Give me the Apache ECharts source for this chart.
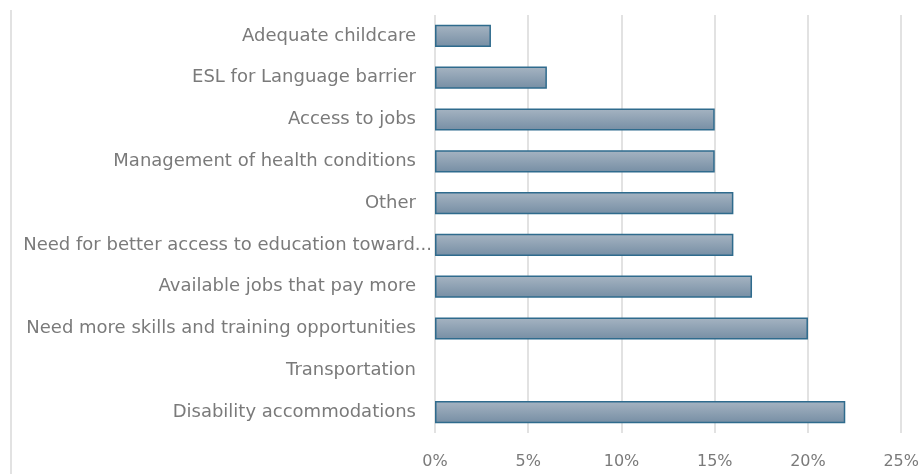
<!DOCTYPE html>
<html>
<head>
<meta charset="utf-8">
<script src="https://cdn.jsdelivr.net/npm/echarts@6/dist/echarts.min.js"></script>
<style>
  html, body { margin: 0; padding: 0; background: #ffffff; }
  #chart { width: 922px; height: 474px; }
</style>
</head>
<body>
<div id="chart"></div>
<script>
// Barriers to employment, share of respondents (top to bottom)
const categories = [
  'Adequate childcare',
  'ESL for Language barrier',
  'Access to jobs',
  'Management of health conditions',
  'Other',
  'Need for better access to education toward...',
  'Available jobs that pay more',
  'Need more skills and training opportunities',
  'Transportation',
  'Disability accommodations'
];
const shares = [3, 6, 15, 15, 16, 16, 17, 20, 0, 22];
const xTicks = [0, 5, 10, 15, 20, 25];

const chart = echarts.init(document.getElementById('chart'), null, { renderer: 'canvas' });

const barFill = new echarts.graphic.LinearGradient(0, 0, 0, 1, [
  { offset: 0, color: '#a6b4c2' },
  { offset: 1, color: '#768ea4' }
]);

chart.setOption({
  animation: false,
  backgroundColor: '#ffffff',
  grid: { left: 435, right: 20, top: 15, bottom: 41, containLabel: false },
  xAxis: {
    type: 'value',
    min: xTicks[0],
    max: xTicks[xTicks.length - 1],
    interval: xTicks[1] - xTicks[0],
    axisLine: { show: false },
    axisTick: { show: false },
    splitLine: { show: true, lineStyle: { color: '#d9d9d9', width: 1.5 } },
    axisLabel: {
      formatter: v => v + '%',
      color: '#7a7a7a',
      fontFamily: 'DejaVu Sans',
      fontSize: 16,
      margin: 21
    }
  },
  yAxis: {
    type: 'category',
    inverse: true,
    data: categories,
    axisLine: { show: false },
    axisTick: { show: false },
    splitLine: { show: false },
    axisLabel: {
      color: '#7a7a7a',
      fontFamily: 'DejaVu Sans',
      fontSize: 18,
      margin: 19,
      formatter: v => v.endsWith('...') ? '{tight|' + v + '}' : v,
      rich: {
        tight: {
          color: '#7a7a7a',
          fontFamily: 'DejaVu Sans',
          fontSize: 18,
          padding: [0, -16, 0, 0]
        }
      }
    }
  },
  series: [{
    type: 'bar',
    barCategoryGap: '47%',
    data: shares.map(v => v === 0
      ? { value: v, itemStyle: { borderWidth: 0 } }
      : v),
    itemStyle: {
      color: barFill,
      borderColor: '#2f6b8d',
      borderWidth: 1.5
    }
  }],
  graphic: [{
    type: 'line',
    shape: { x1: 11, y1: 10, x2: 11, y2: 474 },
    style: { stroke: '#d9d9d9', lineWidth: 1.5 },
    silent: true
  }]
});
</script>
</body>
</html>
